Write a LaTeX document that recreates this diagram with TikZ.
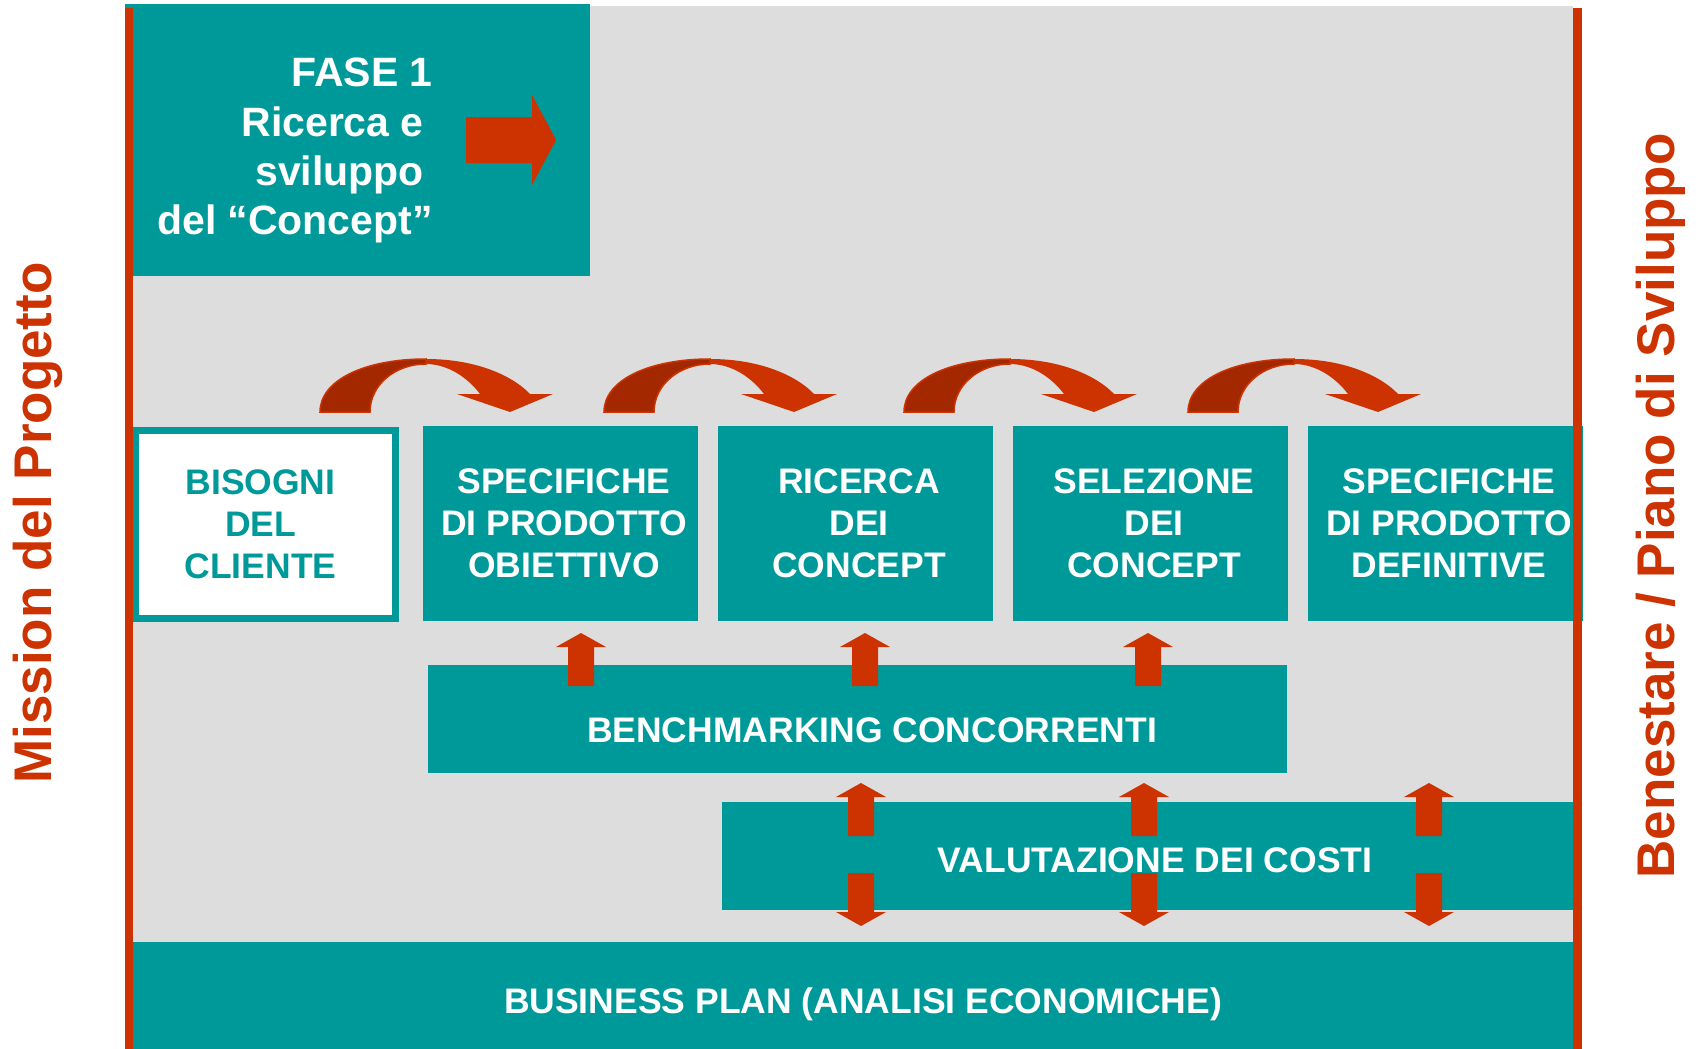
\documentclass[tikz,border=0pt]{standalone}
\usepackage{fontspec}
\setmainfont{Liberation Sans}
\definecolor{teal1}{HTML}{009999}
\definecolor{red1}{HTML}{CC3300}
\definecolor{dred}{HTML}{A32800}
\definecolor{bg}{HTML}{DDDDDD}
\tikzset{
  box/.style={fill=teal1, draw=none, inner sep=0pt},
  boxtext/.style={text=white, inner sep=0pt, align=center, font=\fontsize{35.5}{42}\selectfont\bfseries},
  sidetext/.style={text=red1, inner sep=0pt, rotate=90, font=\fontsize{53}{60}\selectfont\bfseries},
  uparr/.pic={\fill[red1] (0,0) -- (25,14) -- (13,14) -- (13,53) -- (-13,53) -- (-13,14) -- (-25,14) -- cycle;},
  curvarr/.pic={
    \fill[red1] (0,0) .. controls (0,-32) and (45,-53) .. (106,-53)
       .. controls (160,-53) and (195,-34) .. (210,-18) -- (233,-18) -- (190,0) -- (137,-18) -- (160,-18)
       .. controls (148,-34) and (128,-48) .. (106,-48)
       .. controls (75,-48) and (50,-27) .. (50,0) -- cycle;
    \filldraw[fill=dred, draw=red1, line width=1.5pt] (0,0) .. controls (0,-32) and (45,-53) .. (106,-53)
       -- (106,-48) .. controls (75,-48) and (50,-27) .. (50,0) -- cycle;
  }
}
\begin{document}
\begin{tikzpicture}[x=1pt,y=-1pt]
\useasboundingbox (0,0) rectangle (1700,1049);
\fill[white] (0,0) rectangle (1700,1049);
% background
\fill[bg] (133,6) rectangle (1573,1049);
% phase box
\node[box, minimum width=465pt, minimum height=272pt] (fase) at (357.5,140) {};
\node[text=white, inner sep=0pt, align=right, anchor=north east, font=\fontsize{41}{49.3}\selectfont\bfseries] (fasetext) at (433,58)
  {FASE 1\\Ricerca e\rule{9pt}{0pt}\\sviluppo\rule{9pt}{0pt}\\del “Concept”};
\fill[red1] (466,117) -- (532,117) -- (532,95) -- (556,140) -- (532,185) -- (532,163) -- (466,163) -- cycle;
% row of boxes
\node[draw=teal1, fill=white, line width=7pt, minimum width=260pt, minimum height=188pt, inner sep=0pt] (b0) at (265.5,524.5) {};
\node[inner sep=0pt, text=teal1, align=center, font=\fontsize{35.5}{42}\selectfont\bfseries] (b0t) at (260.5,524.5) {BISOGNI\\DEL\\CLIENTE};
\node[box, minimum width=275pt, minimum height=195pt] (s1) at (560.5,523.5) {};
\node[box, minimum width=275pt, minimum height=195pt] (s2) at (855.5,523.5) {};
\node[box, minimum width=275pt, minimum height=195pt] (s3) at (1150.5,523.5) {};
\node[box, minimum width=275pt, minimum height=195pt] (s4) at (1445.5,523.5) {};
\node[boxtext] (s1t) at (564,523.5) {SPECIFICHE\\DI PRODOTTO\\OBIETTIVO};
\node[boxtext] (s2t) at (859,523.5) {RICERCA\\DEI\\CONCEPT};
\node[boxtext] (s3t) at (1154,523.5) {SELEZIONE\\DEI\\CONCEPT};
\node[boxtext] (s4t) at (1449,523.5) {SPECIFICHE\\DI PRODOTTO\\DEFINITIVE};
% curved arrows
\pic at (320,412) {curvarr};
\pic at (604,412) {curvarr};
\pic at (904,412) {curvarr};
\pic at (1188,412) {curvarr};
% benchmarking
\node[box, minimum width=859pt, minimum height=108pt] (bench) at (857.5,719) {};
\node[boxtext] (bencht) at (872,730) {BENCHMARKING CONCORRENTI};
\pic at (581,633) {uparr};
\pic at (865,633) {uparr};
\pic at (1148,633) {uparr};
% costs
\node[box, minimum width=852pt, minimum height=108pt] (cost) at (1148,856) {};
\node[boxtext] (costt) at (1155,860) {VALUTAZIONE DEI COSTI};
\foreach \cx in {861,1144,1429}{
  \pic at (\cx,783) {uparr};
  \pic[rotate=180] at (\cx,926) {uparr};
}
% business plan
\node[box, minimum width=1445pt, minimum height=107pt] (bp) at (850.5,995.5) {};
\node[boxtext] (bpt) at (863,1004) {BUSINESS PLAN (ANALISI ECONOMICHE)};
% side red lines
\fill[red1] (125,8) rectangle (133,1049);
\fill[red1] (1573,8) rectangle (1582,1049);
% side texts
\node[sidetext] (mission) at (38,523) {Mission del Progetto};
\node[sidetext] (benestare) at (1661,506) {Benestare / Piano di Sviluppo};
\end{tikzpicture}
\end{document}
